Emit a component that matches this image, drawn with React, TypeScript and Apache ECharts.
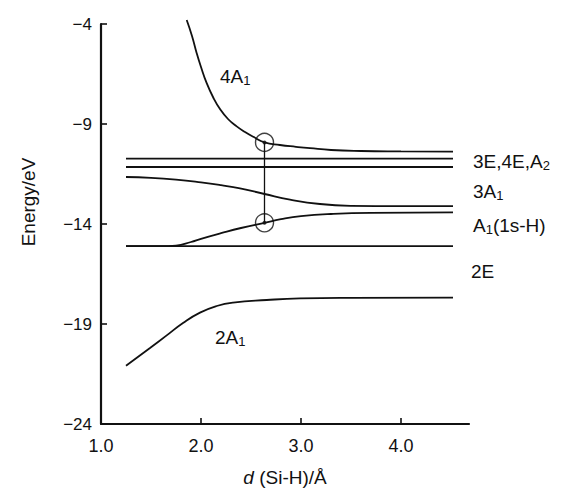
import React, { useEffect, useRef } from "react";
import * as echarts from "echarts";

// Axis ticks
const xTickValues = [1, 2, 3, 4];
const yMin = -24;
const yMax = -4;
const yStep = 5;

// Energy curves: [d(Si-H) in Å, energy in eV]
const state4A1: [number, number][] = [
  [1.857, -3.8], [1.91, -4.6], [1.957, -5.46], [2.0, -6.15], [2.057, -6.96],
  [2.12, -7.65], [2.19, -8.25], [2.27, -8.75], [2.357, -9.12], [2.44, -9.4],
  [2.523, -9.64], [2.635, -9.92], [2.79, -10.05], [2.95, -10.14], [3.09, -10.21],
  [3.3, -10.3], [3.6, -10.35], [4.0, -10.37], [4.52, -10.38],
];
const state3A1: [number, number][] = [
  [1.25, -11.65], [1.5, -11.69], [1.75, -11.78], [2.0, -11.92], [2.2, -12.06],
  [2.39, -12.22], [2.635, -12.5], [2.89, -12.78], [3.19, -13.0], [3.5, -13.09],
  [4.0, -13.11], [4.52, -13.11],
];
const stateA1H: [number, number][] = [
  [1.25, -15.11], [1.6, -15.11], [1.75, -15.08], [1.9, -14.9], [2.0, -14.74],
  [2.2, -14.46], [2.4, -14.2], [2.635, -13.94], [2.8, -13.76], [3.0, -13.61],
  [3.3, -13.5], [3.7, -13.44], [4.52, -13.42],
];
const state2A1: [number, number][] = [
  [1.25, -21.09], [1.49, -20.2], [1.657, -19.57], [1.82, -18.95], [1.99, -18.43],
  [2.157, -18.1], [2.32, -17.93], [2.657, -17.8], [2.99, -17.72], [3.5, -17.69],
  [4.52, -17.68],
];
// Flat levels (3E, 4E, A2 and 2E)
const levelRange = [1.25, 4.52];
const flatLevels = [-10.73, -11.15, -15.11];
// Avoided-crossing points joined by a vertical line
const crossingPoints: [number, number][] = [
  [2.635, -9.92],
  [2.635, -13.94],
];

const FONT = "Liberation Sans, Arial, sans-serif";
const INK = "#111";

export default function App() {
  const ref = useRef<HTMLDivElement>(null);

  useEffect(() => {
    if (!ref.current) return;
    const chart = echarts.init(ref.current, undefined, { renderer: "svg" });

    const curveStyle = { color: INK, width: 1.8 };
    const curve = (name: string, data: [number, number][], clip = true) => ({
      name,
      type: "line",
      data,
      smooth: 0.5,
      showSymbol: false,
      symbol: "none",
      clip,
      lineStyle: curveStyle,
      silent: true,
    });

    const rich = {
      s: { fontSize: 13, lineHeight: 13, padding: [9, 0, 0, 0], fontFamily: FONT, fill: INK, color: INK },
    };
    const label = (text: string, x: number, y: number) => ({
      type: "text",
      x,
      y,
      style: {
        text,
        fontSize: 19,
        fontFamily: FONT,
        fill: INK,
        verticalAlign: "middle",
        align: "left",
        lineHeight: 22,
        rich,
      },
    });

    chart.setOption({
      animation: false,
      backgroundColor: "#fff",
      grid: { left: 101, right: 93, top: 24, bottom: 67, containLabel: false },
      xAxis: {
        type: "value",
        min: 1,
        max: 4.68,
        interval: 1,
        name: "{i|d} (Si-H)/Å",
        nameLocation: "middle",
        nameGap: 44,
        nameTextStyle: {
          fontSize: 19,
          fontFamily: FONT,
          color: INK,
          rich: { i: { fontStyle: "italic", fontSize: 19, fontFamily: FONT, color: INK } },
        },
        axisLine: { show: true, lineStyle: { color: INK, width: 2.2 } },
        axisTick: {
          show: true,
          inside: true,
          length: 6,
          customValues: [2, 3, 4],
          lineStyle: { color: INK, width: 1.6 },
        },
        axisLabel: {
          customValues: xTickValues,
          formatter: (v: number) => v.toFixed(1),
          fontSize: 18,
          fontFamily: FONT,
          color: INK,
          margin: 13,
        },
        splitLine: { show: false },
      },
      yAxis: {
        type: "value",
        min: yMin,
        max: yMax,
        interval: yStep,
        axisLine: { show: true, lineStyle: { color: INK, width: 2.2 } },
        axisTick: { show: true, inside: true, length: 6, lineStyle: { color: INK, width: 1.6 } },
        axisLabel: {
          formatter: (v: number) => String(v).replace("-", "\u2212"),
          fontSize: 17,
          fontFamily: FONT,
          color: INK,
          margin: 9,
        },
        splitLine: { show: false },
      },
      series: [
        curve("4A1", state4A1, false),
        curve("3A1", state3A1),
        curve("A1(1s-H)", stateA1H),
        curve("2A1", state2A1),
        ...flatLevels.map((v, i) => ({
          name: "level" + i,
          type: "line",
          data: levelRange.map((x) => [x, v]),
          showSymbol: false,
          symbol: "none",
          lineStyle: curveStyle,
          silent: true,
        })),
        {
          name: "crossing-link",
          type: "line",
          data: crossingPoints,
          showSymbol: false,
          symbol: "none",
          lineStyle: { color: INK, width: 1.3 },
          silent: true,
        },
        {
          name: "crossing-rings",
          type: "scatter",
          data: crossingPoints,
          symbol: "circle",
          symbolSize: 18,
          itemStyle: { color: "rgba(0,0,0,0)", borderColor: INK, borderWidth: 1.4 },
          silent: true,
        },
        {
          name: "crossing-dots",
          type: "scatter",
          data: crossingPoints,
          symbol: "circle",
          symbolSize: 4,
          itemStyle: { color: INK },
          silent: true,
        },
      ],
      graphic: [
        label("4A{s|1}", 220, 76),
        label("2A{s|1}", 215, 337),
        label("3E,4E,A{s|2}", 473, 161),
        label("3A{s|1}", 473, 191),
        label("A{s|1}(1s-H)", 473, 225),
        label("2E", 471, 271),
        {
          type: "text",
          x: 28,
          y: 202,
          rotation: Math.PI / 2,
          style: {
            text: "Energy/eV",
            fontSize: 19,
            fontFamily: FONT,
            fill: INK,
            align: "center",
            verticalAlign: "middle",
          },
        },
      ],
    });

    return () => chart.dispose();
  }, []);

  return (
    <div
      ref={ref}
      style={{ position: "fixed", left: 0, top: 0, width: 562, height: 492, background: "#fff" }}
    />
  );
}
